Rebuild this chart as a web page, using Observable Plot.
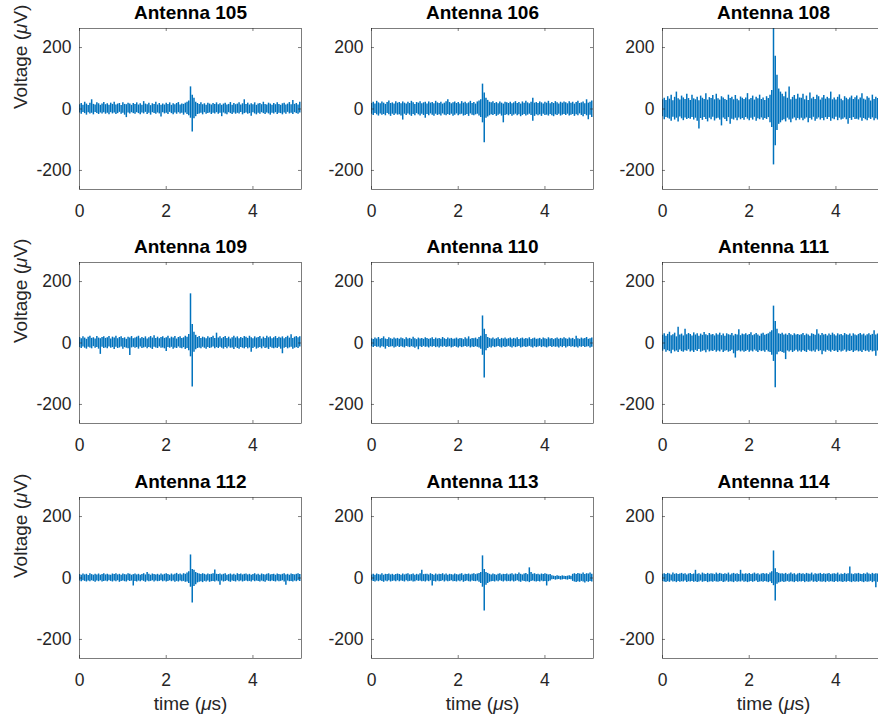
<!DOCTYPE html>
<html><head><meta charset="utf-8">
<script src="https://cdn.jsdelivr.net/npm/d3@7"></script>
<script src="https://cdn.jsdelivr.net/npm/@observablehq/plot@0.6"></script>
<style>
html,body{margin:0;padding:0;background:#fff;overflow:hidden;}
#fig{position:relative;width:878px;height:721px;overflow:hidden;background:#fff;}
#fig svg{position:absolute;overflow:visible;max-width:none;}
</style></head><body><div id="fig"></div>
<script>
// ---- data: per 0.04 µs bin, the highest and lowest voltage (µV) ----
const antennas = ["Antenna 105","Antenna 106","Antenna 108","Antenna 109","Antenna 110","Antenna 111","Antenna 112","Antenna 113","Antenna 114"];
const sampleStep = 0.04; // µs
const xTicks = [0, 2, 4];
const yTicks = [-200, 0, 200];
const xDomain = [0, 5.12];
const yDomain = [-262, 262];
const yLabel = "Voltage (μV)";
const xLabel = "time (μs)";

const hi105 = [
 14,18,12,22,16,11,19,30,15,13,20,17,12,16,21,14,
 17,12,19,15,22,13,16,18,11,20,15,14,19,16,12,18,
 15,20,13,17,12,24,16,14,19,11,17,15,22,13,18,12,
 16,13,19,15,20,12,17,14,18,21,13,16,15,19,22,26,
 72,45,35,22,18,15,20,14,17,12,19,16,13,18,15,20,
 14,17,12,16,19,13,15,21,12,18,14,16,20,13,17,30,
 15,19,13,17,14,20,12,16,18,14,22,15,13,19,16,12,
 18,14,20,15,12,17,19,13,16,21,14,28,15,18,13,22];
const lo105 = [
 -13,-17,-11,-15,-20,-12,-16,-14,-19,-11,-15,-18,-13,-16,-12,-17,
 -14,-19,-12,-16,-13,-18,-15,-11,-17,-14,-20,-28,-13,-16,-12,-15,
 -17,-12,-15,-19,-13,-16,-11,-18,-14,-20,-12,-15,-17,-13,-16,-26,
 -12,-16,-14,-18,-11,-15,-19,-13,-17,-12,-16,-14,-20,-13,-18,-22,
 -30,-75,-32,-25,-18,-16,-14,-19,-12,-17,-15,-13,-18,-14,-16,-12,
 -17,-14,-25,-13,-16,-19,-12,-15,-18,-13,-17,-14,-16,-11,-19,-15,
 -13,-17,-15,-24,-12,-16,-19,-14,-17,-12,-15,-18,-13,-16,-20,-14,
 -16,-12,-18,-14,-15,-19,-13,-17,-11,-16,-14,-18,-12,-15,-17,-13];
const hi106 = [
 18,22,16,25,20,17,23,19,15,21,26,18,20,16,24,19,
 21,17,23,19,16,22,18,25,20,15,21,19,24,17,20,22,
 16,23,19,21,17,25,20,18,22,16,19,24,30,21,17,20,
 23,18,21,16,24,19,22,17,20,25,18,21,16,23,26,30,
 81,52,35,28,22,20,24,18,21,17,23,19,16,22,20,18,
 22,17,20,24,18,21,16,23,19,25,20,17,22,35,19,21,
 18,23,20,16,22,19,25,17,21,18,24,20,16,22,19,23,
 20,17,24,19,22,16,21,25,18,20,23,17,30,19,22,26];
const lo106 = [
 -17,-21,-15,-19,-23,-16,-20,-18,-22,-15,-19,-24,-17,-21,-16,-20,
 -19,-23,-36,-17,-21,-16,-20,-24,-18,-22,-15,-19,-23,-17,-21,-30,
 -18,-22,-16,-20,-24,-17,-21,-19,-23,-16,-20,-22,-18,-21,-17,-24,
 -20,-16,-22,-19,-17,-23,-21,-18,-24,-16,-20,-22,-19,-17,-23,-28,
 -45,-110,-30,-26,-22,-19,-21,-18,-24,-20,-17,-23,-45,-21,-19,-22,
 -18,-24,-20,-17,-22,-19,-25,-21,-18,-23,-20,-17,-21,-40,-24,-19,
 -22,-19,-24,-17,-21,-20,-23,-18,-22,-25,-19,-21,-17,-23,-20,-18,
 -21,-17,-23,-20,-18,-24,-19,-22,-16,-21,-25,-18,-22,-35,-20,-28];
const hi108 = [
 30,35,28,40,32,45,27,38,55,33,29,42,36,31,48,34,
 28,45,33,30,38,27,42,35,31,50,29,37,34,44,30,48,
 33,29,40,36,31,28,45,34,38,30,44,32,27,39,35,31,
 36,50,30,34,42,29,38,33,45,31,36,28,40,34,45,60,
 300,172,110,65,55,48,40,55,35,72,30,38,44,32,48,36,
 35,48,30,42,28,52,33,38,31,45,40,29,36,44,32,38,
 33,55,30,36,29,38,46,32,27,40,35,30,36,42,31,37,
 42,30,36,50,32,29,40,35,26,45,31,38,34,52,30,36];
const lo108 = [
 -25,-35,-28,-30,-33,-40,-27,-36,-30,-42,-26,-32,-38,-29,-34,-31,
 -33,-28,-36,-30,-40,-65,-31,-37,-28,-34,-42,-30,-35,-27,-39,-32,
 -30,-36,-55,-29,-34,-41,-28,-50,-33,-36,-30,-38,-29,-35,-31,-37,
 -28,-33,-38,-30,-36,-27,-40,-32,-35,-29,-37,-31,-34,-28,-45,-60,
 -182,-120,-70,-50,-45,-38,-35,-42,-30,-36,-45,-33,-29,-38,-31,-36,
 -30,-38,-33,-29,-45,-31,-36,-27,-40,-33,-29,-36,-31,-38,-28,-34,
 -28,-40,-32,-35,-27,-38,-30,-36,-33,-29,-35,-50,-31,-37,-28,-34,
 -33,-36,-29,-40,-31,-35,-38,-30,-34,-29,-38,-32,-36,-40,-60,-33];
const hi109 = [
 18,14,20,16,12,19,22,15,17,13,21,16,14,18,20,15,
 17,21,13,19,16,22,14,18,20,15,17,12,19,16,21,14,
 16,19,22,14,18,15,20,13,17,21,16,24,15,19,14,18,
 20,15,17,22,14,19,16,21,13,18,20,15,17,22,19,28,
 160,60,35,25,18,21,15,19,17,14,20,16,18,22,15,32,
 16,20,14,18,21,15,19,13,17,22,16,20,14,18,15,21,
 19,15,22,17,14,20,16,18,21,13,19,15,22,17,20,14,
 17,21,15,19,16,20,14,18,22,16,27,15,19,21,17,20];
const lo109 = [
 -15,-18,-13,-17,-20,-14,-16,-19,-12,-17,-15,-20,-37,-14,-18,-16,
 -19,-13,-17,-15,-21,-14,-18,-16,-13,-20,-15,-17,-19,-41,-16,-14,
 -17,-15,-20,-13,-18,-16,-14,-19,-15,-17,-21,-14,-16,-18,-13,-17,
 -16,-19,-28,-15,-17,-14,-20,-16,-18,-13,-17,-19,-15,-21,-18,-25,
 -45,-143,-30,-22,-18,-16,-19,-14,-17,-20,-15,-18,-16,-13,-19,-15,
 -18,-14,-17,-20,-15,-19,-13,-17,-16,-21,-14,-18,-20,-15,-17,-19,
 -15,-19,-16,-30,-18,-14,-20,-17,-15,-19,-13,-18,-16,-21,-14,-17,
 -19,-16,-18,-14,-20,-35,-17,-15,-19,-16,-14,-20,-17,-15,-18,-13];
const hi110 = [
 14,11,16,13,18,12,15,20,13,11,17,14,12,16,13,15,
 12,16,14,11,17,13,15,12,19,14,11,16,13,15,12,17,
 15,12,14,17,11,16,13,15,12,18,14,11,16,13,15,12,
 13,16,12,15,14,11,17,13,20,12,15,14,16,12,18,22,
 88,45,28,18,15,13,16,12,14,17,11,15,13,16,12,14,
 16,12,15,13,17,11,14,16,12,15,13,17,11,14,16,12,
 13,15,11,16,14,12,17,13,15,11,14,16,12,15,13,17,
 14,12,16,13,15,11,22,14,12,16,13,15,18,12,14,16];
const lo110 = [
 -12,-15,-11,-14,-13,-16,-12,-14,-20,-11,-15,-13,-12,-16,-14,-11,
 -15,-12,-14,-16,-11,-13,-15,-12,-14,-17,-13,-22,-12,-15,-11,-14,
 -13,-16,-12,-14,-11,-15,-13,-16,-12,-14,-11,-15,-13,-12,-16,-14,
 -11,-14,-16,-12,-15,-13,-11,-14,-12,-16,-13,-15,-12,-14,-16,-20,
 -40,-114,-25,-18,-14,-16,-12,-15,-13,-11,-14,-16,-12,-15,-13,-11,
 -14,-16,-12,-15,-13,-11,-16,-14,-12,-15,-13,-11,-14,-16,-12,-15,
 -13,-11,-15,-12,-14,-16,-13,-11,-15,-12,-14,-13,-16,-12,-15,-11,
 -16,-13,-11,-14,-12,-15,-13,-16,-12,-14,-11,-15,-13,-12,-16,-14];
const hi111 = [
 25,30,22,28,35,24,27,32,20,51,26,29,23,45,27,31,
 28,23,33,26,30,22,29,25,34,27,24,31,26,28,23,30,
 26,32,24,29,22,30,27,25,31,23,28,26,43,24,29,27,
 30,25,28,33,24,27,31,26,22,29,32,25,28,30,35,40,
 120,70,45,30,28,32,26,29,25,31,27,24,30,26,28,25,
 27,31,24,29,26,22,30,28,25,43,29,24,31,26,28,23,
 29,25,32,27,23,30,26,28,24,31,27,25,29,22,30,26,
 24,28,31,26,29,23,27,30,25,28,40,26,29,24,32,38];
const lo111 = [
 -27,-22,-30,-25,-28,-35,-24,-29,-26,-31,-23,-28,-30,-25,-27,-22,
 -29,-26,-31,-24,-28,-21,-30,-27,-25,-32,-23,-29,-26,-28,-24,-30,
 -26,-29,-23,-31,-27,-25,-30,-28,-24,-35,-49,-27,-25,-29,-26,-30,
 -28,-24,-30,-26,-29,-23,-27,-31,-25,-28,-26,-30,-24,-29,-31,-40,
 -60,-146,-38,-30,-28,-31,-33,-54,-26,-29,-25,-31,-27,-24,-29,-26,
 -30,-25,-28,-31,-24,-27,-29,-26,-30,-23,-28,-25,-38,-27,-30,-24,
 -27,-30,-24,-28,-26,-31,-25,-29,-27,-23,-30,-26,-28,-25,-31,-27,
 -25,-29,-27,-31,-24,-28,-26,-30,-25,-29,-27,-43,-26,-30,-24,-28];
const hi112 = [
 11,9,13,10,12,8,14,11,9,12,10,13,9,11,14,10,
 12,10,9,13,11,14,10,12,9,13,11,10,14,12,9,11,
 13,10,12,9,11,14,10,18,12,9,13,11,10,12,9,13,
 10,12,14,11,9,13,10,12,15,11,13,10,14,12,16,20,
 75,28,25,18,15,13,11,14,12,10,13,11,12,14,26,12,
 11,13,10,12,14,9,11,13,10,12,9,14,11,13,10,12,
 13,10,12,9,11,14,10,12,9,13,11,10,12,14,10,11,
 12,9,13,11,10,12,14,10,12,9,13,11,10,12,14,11];
const lo112 = [
 -10,-12,-9,-11,-13,-10,-12,-9,-11,-14,-10,-12,-9,-13,-11,-10,
 -12,-9,-11,-13,-10,-12,-9,-14,-11,-10,-12,-13,-9,-11,-10,-26,
 -11,-13,-10,-12,-9,-11,-14,-10,-12,-11,-9,-13,-10,-12,-11,-9,
 -12,-10,-13,-11,-9,-12,-10,-14,-11,-13,-10,-12,-11,-14,-13,-18,
 -30,-81,-28,-22,-16,-14,-12,-15,-11,-13,-10,-14,-12,-11,-13,-10,
 -12,-24,-10,-13,-11,-9,-12,-14,-10,-11,-13,-9,-12,-10,-13,-11,
 -10,-12,-11,-13,-9,-12,-10,-11,-13,-10,-12,-14,-9,-11,-12,-10,
 -11,-13,-10,-12,-11,-9,-13,-24,-10,-12,-11,-13,-10,-12,-9,-11];
const hi113 = [
 10,12,9,13,11,10,14,9,12,11,13,10,12,9,11,13,
 11,9,13,10,12,14,10,11,13,9,12,10,14,25,11,12,
 12,10,14,11,9,13,10,12,11,14,10,13,9,12,11,10,
 13,11,10,12,14,9,12,11,13,10,12,14,11,13,15,18,
 72,28,18,15,12,10,13,11,9,12,14,10,12,11,13,10,
 12,14,10,13,11,16,12,10,13,15,11,33,18,12,14,11,
 12,10,13,11,14,12,10,11,7,6,5,7,6,5,7,6,
 5,6,7,6,12,14,11,15,13,12,16,11,14,13,16,12];
const lo113 = [
 -9,-11,-13,-10,-12,-9,-11,-14,-10,-12,-9,-13,-11,-10,-12,-9,
 -12,-10,-11,-13,-9,-12,-11,-10,-13,-12,-9,-11,-10,-12,-11,-13,
 -10,-12,-9,-26,-11,-13,-10,-12,-11,-9,-13,-10,-12,-11,-9,-12,
 -11,-13,-10,-12,-9,-14,-11,-10,-12,-13,-10,-11,-12,-10,-14,-18,
 -30,-107,-24,-18,-14,-12,-11,-13,-10,-12,-9,-11,-13,-10,-12,-11,
 -12,-10,-13,-11,-9,-12,-14,-10,-11,-13,-12,-15,-11,-10,-12,-13,
 -11,-13,-10,-12,-11,-26,-12,-10,-6,-5,-7,-6,-5,-7,-6,-5,
 -6,-7,-5,-6,-11,-13,-15,-12,-14,-11,-13,-16,-12,-14,-11,-13];
const hi114 = [
 12,14,11,15,13,10,16,12,14,11,13,15,12,14,10,13,
 15,11,13,25,12,14,10,16,13,11,15,12,14,13,11,16,
 12,15,13,11,14,12,16,10,13,15,12,14,11,25,13,12,
 14,12,15,11,13,16,12,14,10,13,15,12,14,11,16,20,
 88,30,18,15,13,14,12,15,11,13,16,12,14,10,13,15,
 12,14,11,15,13,12,16,10,14,12,13,15,11,14,12,13,
 15,11,13,14,12,16,10,13,11,15,12,14,36,13,11,14,
 13,15,12,11,14,12,16,13,11,15,12,14,13,16,12,14];
const lo114 = [
 -11,-13,-15,-12,-14,-10,-13,-12,-15,-11,-14,-12,-13,-10,-15,-12,
 -13,-11,-14,-12,-15,-13,-10,-14,-12,-11,-15,-13,-12,-14,-11,-13,
 -14,-12,-11,-15,-13,-10,-14,-12,-13,-15,-11,-14,-12,-13,-10,-14,
 -12,-15,-13,-11,-14,-12,-10,-15,-13,-12,-14,-11,-13,-15,-12,-18,
 -25,-75,-20,-16,-14,-12,-15,-13,-11,-14,-12,-13,-15,-11,-14,-12,
 -13,-11,-15,-12,-14,-13,-10,-14,-12,-15,-11,-13,-14,-12,-15,-11,
 -14,-12,-13,-15,-11,-14,-12,-13,-15,-12,-14,-11,-13,-15,-12,-14,
 -12,-14,-11,-13,-15,-12,-14,-13,-11,-15,-12,-32,-14,-13,-15,-12];
const highs = [hi105, hi106, hi108, hi109, hi110, hi111, hi112, hi113, hi114];
const lows  = [lo105, lo106, lo108, lo109, lo110, lo111, lo112, lo113, lo114];

// ---- layout ----
const colLeft = [79, 371, 662], rowTop = [28, 262, 497];
const frameW = 222, frameH = 161;
const mL = 70, mR = 10, mT = 30, mB = 64;
const font = "'Liberation Sans', Arial, Helvetica, sans-serif";
const lineColor = "#0072BD", axisColor = "#262626";
const tickY = (yDomain[1] - yDomain[0]) / frameH * 3;
const tickX = (xDomain[1] - xDomain[0]) / frameW * 3;
const fig = document.getElementById("fig");

antennas.forEach((name, i) => {
  const r = Math.floor(i / 3), c = i % 3;
  const data = highs[i].map((h, k) => ({t: k * sampleStep, hi: h, lo: lows[i][k]}));
  const marks = [
    Plot.ruleX(data, {x: "t", y1: "lo", y2: "hi", stroke: lineColor, strokeWidth: 1.5, clip: true}),
    Plot.ruleX(xTicks, {y1: yDomain[0], y2: yDomain[0] + tickY, stroke: axisColor, strokeWidth: 0.6}),
    Plot.ruleX(xTicks, {y1: yDomain[1] - tickY, y2: yDomain[1], stroke: axisColor, strokeWidth: 0.6}),
    Plot.ruleY(yTicks, {x1: xDomain[0], x2: xDomain[0] + tickX, stroke: axisColor, strokeWidth: 0.6}),
    Plot.ruleY(yTicks, {x1: xDomain[1] - tickX, x2: xDomain[1], stroke: axisColor, strokeWidth: 0.6}),
    Plot.frame({stroke: axisColor, strokeWidth: 0.6}),
    Plot.axisX({ticks: xTicks, tickSize: 0, tickPadding: 15, fontSize: 17.5, label: null, tickFormat: d => String(d)}),
    Plot.axisY({ticks: yTicks, tickSize: 0, tickPadding: 8, fontSize: 17.5, label: null, tickFormat: d => d < 0 ? "-" + Math.abs(d) : String(d)}),
    Plot.text([name], {text: d => d, frameAnchor: "top", lineAnchor: "middle", dy: -16, fontSize: 19, fontWeight: "bold", fill: "#000"})
  ];
  if (c === 0) marks.push(Plot.text([yLabel], {text: d => d, frameAnchor: "left", lineAnchor: "middle", rotate: -90, dx: -59, fontSize: 19, fill: axisColor}));
  if (r === 2) marks.push(Plot.text([xLabel], {text: d => d, frameAnchor: "bottom", lineAnchor: "middle", dy: 45.5, fontSize: 19, fill: axisColor}));

  const svg = Plot.plot({
    width: mL + frameW + mR, height: mT + frameH + mB,
    marginLeft: mL, marginRight: mR, marginTop: mT, marginBottom: mB,
    x: {domain: xDomain}, y: {domain: yDomain},
    style: {fontFamily: font, background: "transparent", color: axisColor, overflow: "visible"},
    marks
  });
  svg.style.left = (colLeft[c] - mL) + "px";
  svg.style.top = (rowTop[r] - mT) + "px";
  // italic Greek mu, as TeX renders it
  d3.select(svg).selectAll("text").each(function() {
    const s = this.textContent;
    if (!s.includes("μ") || this.querySelector("tspan")) return;
    const parts = s.split("μ");
    this.textContent = "";
    parts.forEach((p, j) => {
      if (j > 0) d3.select(this).append("tspan").attr("font-style", "italic").text("μ");
      d3.select(this).append("tspan").text(p);
    });
  });
  fig.appendChild(svg);
});
</script></body></html>
